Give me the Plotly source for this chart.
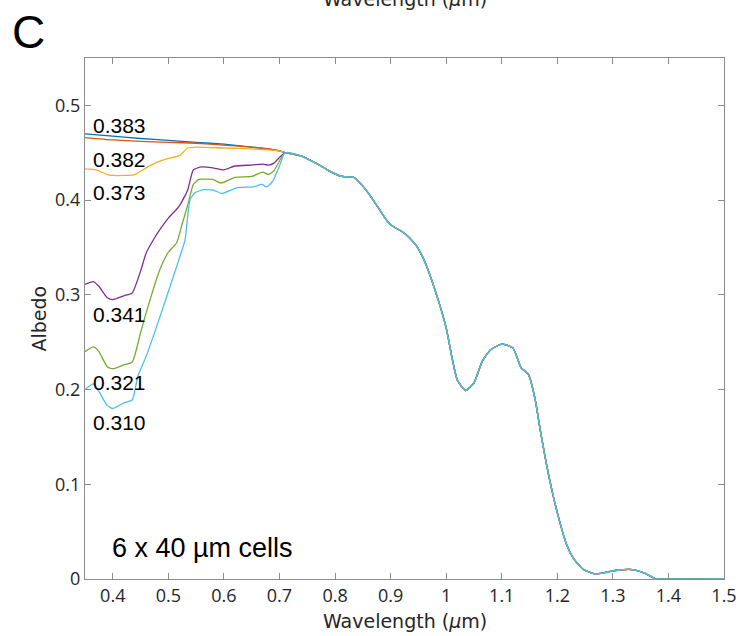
import plotly.graph_objects as go

# ---- data ----
tail_x = [0.74, 0.77, 0.79, 0.81, 0.835, 0.85, 0.87, 0.89, 0.90, 0.925, 0.945, 0.96, 0.98,
          1.00, 1.01, 1.02, 1.035, 1.05, 1.065, 1.08, 1.10, 1.12, 1.135, 1.148, 1.16, 1.17,
          1.185, 1.20, 1.217, 1.23, 1.247, 1.268, 1.285, 1.31, 1.335, 1.358, 1.375, 1.38, 1.5]
tail_y = [0.4465, 0.4376, 0.4306, 0.4253, 0.4236, 0.4147, 0.399, 0.381, 0.374, 0.365, 0.353,
          0.337, 0.305, 0.265, 0.235, 0.210, 0.199, 0.207, 0.230, 0.242, 0.248, 0.244, 0.223,
          0.216, 0.190, 0.155, 0.108, 0.070, 0.036, 0.021, 0.010, 0.0053, 0.0067, 0.0095,
          0.010, 0.006, 0.0007, 0.0, 0.0]

blue_x = [0.35, 0.40, 0.45, 0.50, 0.55, 0.60, 0.65, 0.70, 0.71]
blue_y = [0.470, 0.4675, 0.465, 0.463, 0.461, 0.459, 0.456, 0.452, 0.450]

orange_x = [0.35, 0.40, 0.45, 0.50, 0.55, 0.60, 0.65, 0.70, 0.71]
orange_y = [0.466, 0.4635, 0.462, 0.461, 0.460, 0.458, 0.456, 0.452, 0.450]

yellow_x = [0.35, 0.37, 0.39, 0.40, 0.42, 0.44, 0.46, 0.48, 0.50, 0.52, 0.535, 0.55, 0.60, 0.65, 0.70, 0.71]
yellow_y = [0.433, 0.432, 0.427, 0.426, 0.426, 0.427, 0.434, 0.440, 0.444, 0.447, 0.455, 0.456,
            0.455, 0.454, 0.452, 0.450]

purple_x = [0.35, 0.365, 0.375, 0.39, 0.40, 0.42, 0.435, 0.45, 0.46, 0.475, 0.485, 0.50, 0.52,
            0.535, 0.545, 0.56, 0.58, 0.60, 0.62, 0.65, 0.67, 0.68, 0.69, 0.71]
purple_y = [0.311, 0.314, 0.309, 0.297, 0.295, 0.299, 0.302, 0.325, 0.344, 0.360, 0.369, 0.381,
            0.394, 0.411, 0.432, 0.435, 0.434, 0.432, 0.436, 0.437, 0.438, 0.437, 0.439, 0.450]

green_x = [0.35, 0.365, 0.375, 0.39, 0.40, 0.42, 0.435, 0.45, 0.46, 0.485, 0.50, 0.515, 0.525,
           0.535, 0.545, 0.555, 0.58, 0.595, 0.62, 0.65, 0.67, 0.68, 0.69, 0.71]
green_y = [0.240, 0.245, 0.240, 0.224, 0.222, 0.226, 0.229, 0.260, 0.281, 0.327, 0.345, 0.355,
           0.375, 0.395, 0.4165, 0.4218, 0.4218, 0.418, 0.424, 0.425, 0.4296, 0.427, 0.431, 0.450]

cyan_x = [0.35, 0.365, 0.375, 0.39, 0.40, 0.42, 0.435, 0.445, 0.46, 0.485, 0.515, 0.53, 0.539,
          0.548, 0.563, 0.581, 0.596, 0.623, 0.653, 0.668, 0.677, 0.688, 0.701, 0.71]
cyan_y = [0.200, 0.206, 0.198, 0.183, 0.180, 0.186, 0.189, 0.214, 0.235, 0.277, 0.330, 0.358,
          0.4006, 0.4077, 0.411, 0.4105, 0.407, 0.413, 0.414, 0.4165, 0.414, 0.420, 0.4376, 0.450]

series_colors = ["#0072BD", "#D95319", "#EDB120", "#7E2F8E", "#77AC30", "#4DBEEE"]
series = [(blue_x, blue_y), (orange_x, orange_y), (yellow_x, yellow_y),
          (purple_x, purple_y), (green_x, green_y), (cyan_x, cyan_y)]

label_texts = ["0.383", "0.382", "0.373", "0.341", "0.321", "0.310"]
label_y = [0.4789, 0.4429, 0.408, 0.279, 0.2072, 0.1649]

x_ticks = [0.4, 0.5, 0.6, 0.7, 0.8, 0.9, 1.0, 1.1, 1.2, 1.3, 1.4, 1.5]
x_ticklabels = ["0.4", "0.5", "0.6", "0.7", "0.8", "0.9", "1", "1.1", "1.2", "1.3", "1.4", "1.5"]
y_ticks = [0, 0.1, 0.2, 0.3, 0.4, 0.5]
y_ticklabels = ["0", "0.1", "0.2", "0.3", "0.4", "0.5"]

fig = go.Figure()
for (xs, ys), c in zip(series, series_colors):
    fig.add_trace(go.Scatter(x=xs + tail_x, y=ys + tail_y, mode="lines",
                             line=dict(color=c, width=1.3, shape="spline", smoothing=0.5),
                             showlegend=False, hoverinfo="skip"))

tick_font = dict(family="Open Sans, Noto Sans, DejaVu Sans", size=18, color="#262626")
axcol = "#8c8c8c"
fig.update_xaxes(range=[0.35, 1.5], tickvals=x_ticks, ticktext=x_ticklabels, showgrid=False,
                 zeroline=False, showline=True, mirror="ticks", linecolor=axcol, linewidth=1,
                 ticks="inside", ticklen=6, tickcolor=axcol, tickfont=tick_font, automargin=False)
fig.update_yaxes(range=[0, 0.55], tickvals=y_ticks, ticktext=y_ticklabels, showgrid=False,
                 zeroline=False, showline=True, mirror="ticks", linecolor=axcol, linewidth=1,
                 ticks="inside", ticklen=6, tickcolor=axcol, tickfont=tick_font, automargin=False)

anns = []
for t, yv in zip(label_texts, label_y):
    anns.append(dict(x=0.3604, y=yv, xref="x", yref="y", text=t, showarrow=False,
                     xanchor="left", yanchor="middle",
                     font=dict(family="Liberation Sans, Arial", size=21, color="black")))
lab_font = dict(family="DejaVu Sans, Open Sans", size=19, color="#262626")
anns += [
    dict(x=0.5, y=-0.0806, xref="paper", yref="paper", text="Wavelength (<i>μ</i>m)",
         showarrow=False, xanchor="center", yanchor="middle", font=lab_font),
    dict(x=0.5, y=1.088, xref="paper", yref="paper", text="Wavelength (<i>μ</i>m)",
         showarrow=False, xanchor="center", yanchor="bottom", font=lab_font),
    dict(x=-0.0720, y=0.5, xref="paper", yref="paper", text="Albedo", textangle=-90,
         showarrow=False, xanchor="center", yanchor="middle", font=lab_font),
    dict(x=-0.089, y=1.05, xref="paper", yref="paper", text="C", showarrow=False,
         xanchor="center", yanchor="middle",
         font=dict(family="Liberation Sans, Arial", size=46, color="black")),
    dict(x=0.039, y=0.0595, xref="paper", yref="paper", text="6 x 40 µm cells", showarrow=False,
         xanchor="left", yanchor="middle",
         font=dict(family="Liberation Sans, Arial", size=27, color="black")),
]

fig.update_layout(width=740, height=636, margin=dict(l=85, r=16, t=58, b=57),
                  paper_bgcolor="white", plot_bgcolor="white", annotations=anns)
fig.write_html("out.html", config={"displayModeBar": False},
               post_script="document.body.style.margin='0';document.body.style.overflow='hidden';")
